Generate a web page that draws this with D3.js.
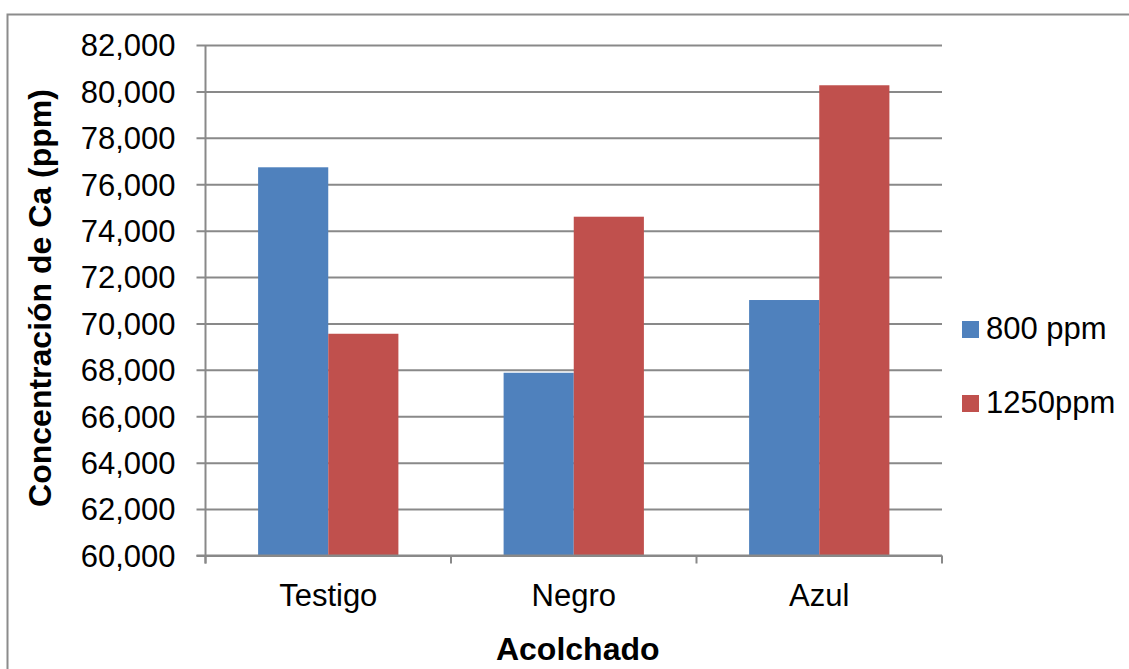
<!DOCTYPE html>
<html>
<head>
<meta charset="utf-8">
<script src="https://cdn.jsdelivr.net/npm/d3@7"></script>
<style>
  html, body { margin: 0; padding: 0; background: #fff; }
  svg { display: block; font-family: "Liberation Sans", Arial, sans-serif; }
</style>
</head>
<body>
<svg id="chart" width="1129" height="669"></svg>
<script>
// Calcium concentration by mulch type and dose
const categories = ["Testigo", "Negro", "Azul"];
const seriesNames = ["800 ppm", "1250ppm"];
const series800 = [76730, 67875, 71010];
const series1250 = [69556, 74600, 80265];
const yTicks = [60000, 62000, 64000, 66000, 68000, 70000, 72000, 74000, 76000, 78000, 80000, 82000];
const colors = ["#4F81BD", "#C0504D"];

const svg = d3.select("#chart");
const plot = { left: 205.5, right: 942, top: 45, bottom: 555.5 };
const gridColor = "#898989";

// Outer chart frame
svg.append("rect")
  .attr("x", 7.5).attr("y", 14.5)
  .attr("width", 1140).attr("height", 680)
  .attr("fill", "none").attr("stroke", "#8c8c8c").attr("stroke-width", 2);

const y = d3.scaleLinear().domain([60000, 82000]).range([plot.bottom, plot.top]);
const x = d3.scaleBand().domain(categories).range([plot.left, plot.right]).padding(0);
const xInner = d3.scaleBand().domain(seriesNames).range([0, x.bandwidth()])
  .paddingInner(0).paddingOuter(0.75);

// Horizontal gridlines with short left tick marks and labels
const fmt = d3.format(",");
const yAxis = d3.axisLeft(y).tickValues(yTicks).tickFormat(d => fmt(d))
  .tickSize(-(plot.right - plot.left)).tickSizeOuter(0).tickPadding(30);
const gy = svg.append("g").attr("transform", `translate(${plot.left},0)`).call(yAxis);
gy.select(".domain").remove();
gy.selectAll(".tick line")
  .attr("x1", -9)
  .attr("stroke", gridColor).attr("stroke-width", 2);
gy.selectAll(".tick text")
  .attr("fill", "#000").attr("font-size", 31).attr("font-family", "Liberation Sans, Arial, sans-serif")
  .attr("dy", "0.35em");

// Bars
const data = categories.map((c, i) => ({ cat: c, values: [series800[i], series1250[i]] }));
const groups = svg.append("g").selectAll("g").data(data).join("g")
  .attr("transform", d => `translate(${x(d.cat)},0)`);
groups.selectAll("rect")
  .data(d => d.values.map((v, j) => ({ name: seriesNames[j], v, j })))
  .join("rect")
  .attr("x", d => xInner(d.name))
  .attr("width", xInner.bandwidth())
  .attr("y", d => y(d.v))
  .attr("height", d => y(60000) - y(d.v))
  .attr("fill", d => colors[d.j]);

// Vertical axis line
svg.append("line")
  .attr("x1", plot.left).attr("x2", plot.left)
  .attr("y1", plot.top).attr("y2", plot.bottom + 8)
  .attr("stroke", gridColor).attr("stroke-width", 2);

// Category axis
const xAxis = d3.axisBottom(x).tickSize(0).tickPadding(28);
const gx = svg.append("g").attr("transform", `translate(0,${plot.bottom})`).call(xAxis);
gx.select(".domain")
  .attr("d", `M${plot.left - 9},0H${plot.right}`)
  .attr("stroke", gridColor).attr("stroke-width", 2);
gx.selectAll(".tick text")
  .attr("fill", "#000").attr("font-size", 31).attr("font-family", "Liberation Sans, Arial, sans-serif");
// Category boundary tick marks
const boundaries = categories.map(c => x(c)).concat([x(categories[categories.length - 1]) + x.bandwidth()]);
gx.selectAll(".bound").data(boundaries).join("line")
  .attr("class", "bound")
  .attr("x1", d => d).attr("x2", d => d)
  .attr("y1", 0).attr("y2", 8)
  .attr("stroke", gridColor).attr("stroke-width", 2);

// Axis titles
svg.append("text")
  .attr("x", (plot.left + plot.right) / 2 + 4).attr("y", 660)
  .attr("text-anchor", "middle").attr("font-size", 32).attr("font-weight", "bold")
  .text("Acolchado");
svg.append("text")
  .attr("transform", "translate(51,298) rotate(-90)")
  .attr("text-anchor", "middle").attr("font-size", 32).attr("font-weight", "bold")
  .text("Concentración de Ca (ppm)");

// Legend
const legend = svg.append("g").attr("transform", "translate(962,321)");
const items = legend.selectAll("g").data(seriesNames).join("g")
  .attr("transform", (d, i) => `translate(0,${i * 74})`);
items.append("rect").attr("width", 17).attr("height", 17)
  .attr("fill", (d, i) => colors[i]);
items.append("text").attr("x", 24).attr("y", 18)
  .attr("font-size", 31).attr("fill", "#000").text(d => d);
</script>
</body>
</html>
